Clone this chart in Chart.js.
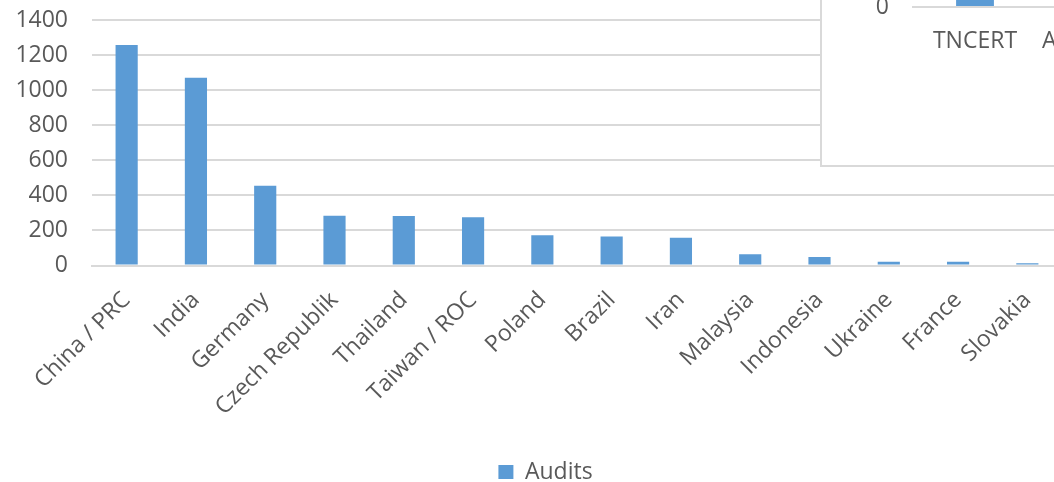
<!DOCTYPE html>
<html>
<head>
<meta charset="UTF-8">
<title>Audits by Country</title>
<script src="https://cdn.jsdelivr.net/npm/chart.js"></script>
<style>
  html, body { margin: 0; padding: 0; background: #ffffff; overflow: hidden; width: 1054px; height: 482px; }
  #wrap { position: relative; width: 1054px; height: 482px; overflow: hidden; }
  #main { position: absolute; left: 0; top: 0; }
  #inset {
    position: absolute; left: 820px; top: -294px; width: 347px; height: 459px;
    background: #ffffff; border-left: 2px solid #d9d9d9; border-bottom: 2px solid #d9d9d9;
  }
</style>
</head>
<body>
<div id="wrap">
  <canvas id="main" width="1062" height="482"></canvas>
  <div id="inset"><canvas id="insetChart" width="347" height="459"></canvas></div>
</div>
<script>
// audits per country
const countries = ['China / PRC', 'India', 'Germany', 'Czech Republik', 'Thailand', 'Taiwan / ROC', 'Poland',
  'Brazil', 'Iran', 'Malaysia', 'Indonesia', 'Ukraine', 'France', 'Slovakia'];
const audits = [1258, 1070, 455, 283, 282, 275, 172, 165, 158, 64, 49, 22, 21, 13];
const yTicks = [0, 200, 400, 600, 800, 1000, 1200, 1400];

// small chart in the corner (audits per certification body)
const bodies = ['TNCERT', 'Accredited'];
const bodyAudits = [34, 22];

const blue = '#5b9bd5';
const grey = '#d9d9d9';
const textCol = '#595959';
const font = { family: "'Open Sans', sans-serif", size: 23 };

// nudge the legend a bit to the right of the canvas centre
const legendShift = {
  id: 'legendShift',
  afterLayout(chart) { if (chart.legend) chart.legend.left += 29; }
};

new Chart(document.getElementById('main').getContext('2d'), {
  type: 'bar',
  data: {
    labels: countries,
    datasets: [{ label: 'Audits', data: audits, backgroundColor: blue, barPercentage: 0.32, categoryPercentage: 1 }]
  },
  plugins: [legendShift],
  options: {
    responsive: false,
    animation: false,
    layout: { padding: { top: 20, right: 0, bottom: -11.5, left: 0 } },
    plugins: {
      tooltip: { enabled: false },
      legend: {
        position: 'bottom',
        labels: { color: textCol, font: { ...font, lineHeight: 1 }, boxWidth: 15, boxHeight: 14, padding: 0 }
      }
    },
    scales: {
      x: {
        grid: { display: false },
        border: { color: grey, width: 2 },
        ticks: { color: textCol, font: font, maxRotation: 45, minRotation: 45, padding: 13 },
        afterFit: s => { s.height = 195; }
      },
      y: {
        min: 0, max: 1400,
        afterBuildTicks: s => { s.ticks = yTicks.map(v => ({ value: v })); },
        grid: { color: grey, lineWidth: 2, drawTicks: false },
        border: { display: false },
        ticks: { color: textCol, font: font, padding: 24, callback: v => String(v) },
        // fixed width; drop the label padding so the top gridline sits at 20px
        afterFit: s => { s.width = 92; s.paddingTop = 0; s.paddingBottom = 0; }
      }
    }
  }
});

new Chart(document.getElementById('insetChart').getContext('2d'), {
  type: 'bar',
  data: {
    labels: bodies,
    datasets: [{ label: 'Audits', data: bodyAudits, backgroundColor: blue, barPercentage: 0.305, categoryPercentage: 1 }]
  },
  options: {
    responsive: false,
    animation: false,
    layout: { padding: { top: 20, right: 0, bottom: 0, left: 0 } },
    plugins: { tooltip: { enabled: false }, legend: { display: false } },
    scales: {
      x: {
        grid: { display: false },
        border: { color: grey, width: 2 },
        ticks: { color: textCol, font: font, maxRotation: 0, padding: 13 },
        afterFit: s => { s.height = 158; }
      },
      y: {
        min: 0, max: 40,
        ticks: { stepSize: 10, color: textCol, font: font, padding: 24 },
        grid: { color: grey, lineWidth: 2, drawTicks: false },
        border: { display: false },
        afterFit: s => { s.width = 91; }
      }
    }
  }
});
</script>
</body>
</html>
